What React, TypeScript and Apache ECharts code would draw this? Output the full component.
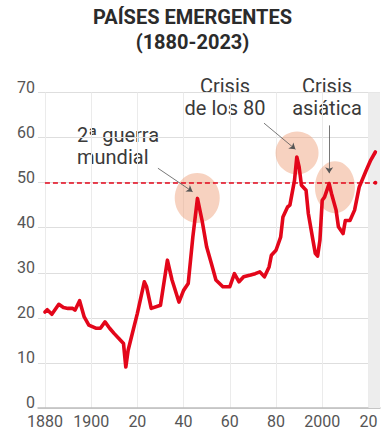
import React, { useEffect, useRef } from "react";
import * as echarts from "echarts";

// ---- Data ----
const debtYears = [
  1880, 1881, 1883, 1886, 1888, 1890, 1892, 1893, 1895, 1897, 1899, 1902, 1904, 1906, 1908, 1910,
  1912, 1914, 1915, 1916, 1920, 1923, 1924, 1926, 1930, 1933, 1935, 1938, 1940, 1942, 1944, 1946,
  1948, 1950, 1952, 1954, 1957, 1960, 1962, 1964, 1966, 1969, 1971, 1973, 1975, 1977, 1978, 1980,
  1982, 1983, 1985, 1986, 1988, 1989, 1990, 1991, 1993, 1994, 1996, 1997, 1998, 1999, 2000, 2001,
  2003, 2004, 2006, 2007, 2009, 2010, 2012, 2014, 2016, 2019, 2021, 2023,
];
const debtValues = [
  21.3, 21.8, 20.8, 23.0, 22.3, 22.1, 22.1, 21.7, 23.8, 20.2, 18.4, 17.7, 17.7, 19.1, 17.7, 16.5,
  15.4, 14.3, 9.1, 12.8, 21.0, 28.0, 26.9, 22.1, 22.8, 32.8, 28.4, 23.5, 26.1, 27.6, 37.9, 46.5,
  41.6, 35.7, 32.1, 28.4, 26.9, 26.9, 29.8, 28.0, 29.1, 29.5, 29.8, 30.2, 29.1, 31.3, 33.9, 35.0,
  37.9, 42.4, 44.6, 45.0, 50.5, 55.7, 53.5, 49.4, 48.3, 43.1, 37.2, 34.3, 33.7, 37.2, 46.1, 46.8,
  49.8, 47.6, 43.9, 40.2, 38.7, 41.6, 41.6, 43.9, 49.0, 52.7, 55.0, 56.8,
];
const xTickValues = [1880, 1900, 1920, 1940, 1960, 1980, 2000, 2020];
const yTickMax = 70;
const yTickStep = 10;
const thresholdValue = 50;
const thresholdRange = [1880, 2023];
const shadedRange = [2020, 2025];

// highlighted episodes: [year, value] of circle centres
const highlightNames = ["2ª guerra mundial", "Crisis de los 80", "Crisis asiática"];
const highlightCenters = [
  [1945.9, 46.6],
  [1989.1, 56.6],
  [2005.5, 49.0],
];
// leader lines: [[fromYear, fromValue], [toYear, toValue]]
const leaderLines = [
  [[1928.9, 53.2], [1943.9, 48.0]],
  [[1974.8, 63.2], [1988.4, 57.4]],
  [[2003.0, 62.7], [2003.0, 52.1]],
];

const FONT = "Roboto, 'Noto Sans', sans-serif";

export default function App() {
  const ref = useRef<HTMLDivElement>(null);

  useEffect(() => {
    if (!ref.current) return;
    const chart = echarts.init(ref.current, undefined, { renderer: "svg" });

    const lineData = debtYears.map((y, i) => [y, debtValues[i]]);
    const circleSizes = [
      [45, 50],
      [43, 43],
      [40, 52],
    ];
    const highlightData = highlightCenters.map((c, i) => ({
      name: highlightNames[i],
      value: c,
      symbolSize: circleSizes[i],
    }));

    const option: any = {
      animation: false,
      title: {
        text: "PAÍSES EMERGENTES\n(1880-2023)",
        left: "center",
        top: 4,
        padding: 0,
        textStyle: {
          fontFamily: FONT,
          fontSize: 20,
          fontWeight: "bold",
          lineHeight: 25,
          color: "#2b2b2b",
        },
      },
      grid: { left: 38, right: 5, top: 92.5, bottom: 28, outerBoundsMode: "none" },
      xAxis: {
        type: "value",
        min: 1877,
        max: 2025,
        axisLine: { show: true, lineStyle: { color: "#bdbdbd", width: 1.5 } },
        axisTick: { show: false, customValues: xTickValues },
        axisLabel: {
          customValues: xTickValues,
          formatter: (v: number) =>
            v === 1880 || v === 1900 || v === 2000 ? String(v) : String(v).slice(2),
          color: "#555",
          fontSize: 16,
          fontFamily: FONT,
          margin: 5,
        },
        splitLine: { show: true, lineStyle: { color: "#ebebeb", width: 1 } },
      },
      yAxis: {
        type: "value",
        min: 0,
        max: yTickMax,
        interval: yTickStep,
        axisLine: { show: false },
        axisTick: { show: false },
        axisLabel: {
          color: "#555",
          fontSize: 16,
          fontFamily: FONT,
          margin: 3,
          verticalAlign: "bottom",
          lineHeight: 11,
        },
        splitLine: { lineStyle: { color: "#dedede", width: 1 } },
      },
      series: [
        {
          type: "scatter",
          data: highlightData,
          symbol: "circle",
          itemStyle: { color: "rgba(238,158,118,0.58)" },
          z: 1,
          silent: true,
        },
        {
          type: "line",
          data: lineData,
          showSymbol: false,
          symbol: "none",
          lineStyle: { color: "#e3061a", width: 3.6, join: "round", cap: "round" },
          z: 3,
          silent: true,
          markLine: {
            silent: true,
            symbol: ["none", "circle"],
            symbolSize: 4,
            label: { show: false },
            lineStyle: { type: [5, 3], color: "#e3061a", width: 1.5 },
            data: [[{ coord: [thresholdRange[0], thresholdValue] }, { coord: [thresholdRange[1], thresholdValue] }]],
          },
          markArea: {
            silent: true,
            itemStyle: { color: "#ededed" },
            data: [[{ xAxis: shadedRange[0] }, { xAxis: shadedRange[1] }]],
          },
        },
        {
          type: "line",
          data: [],
          z: 4,
          silent: true,
          markLine: {
            silent: true,
            symbol: ["none", "arrow"],
            symbolSize: 6,
            label: { show: false },
            lineStyle: { type: "solid", color: "#555", width: 0.8 },
            data: leaderLines.map((l) => [{ coord: l[0] }, { coord: l[1] }]),
          },
        },
      ],
      graphic: [
        {
          type: "text",
          left: 77,
          top: 124,
          style: {
            text: "2ª guerra\nmundial",
            fontFamily: FONT,
            fontSize: 20,
            lineHeight: 22,
            fill: "#3a3a3a",
            textAlign: "left",
          },
        },
        {
          type: "text",
          x: 225,
          y: 96.5,
          style: {
            text: "Crisis\nde los 80",
            fontFamily: FONT,
            fontSize: 20,
            lineHeight: 22,
            fill: "#3a3a3a",
            textAlign: "center",
            textVerticalAlign: "middle",
          },
        },
        {
          type: "text",
          x: 327,
          y: 96.5,
          style: {
            text: "Crisis\nasiática",
            fontFamily: FONT,
            fontSize: 20,
            lineHeight: 22,
            fill: "#3a3a3a",
            textAlign: "center",
            textVerticalAlign: "middle",
          },
        },
      ],
    };

    chart.setOption(option);
    return () => chart.dispose();
  }, []);

  return (
    <div
      ref={ref}
      style={{ position: "fixed", left: 0, top: 0, width: 385, height: 436, background: "#fff" }}
    />
  );
}
